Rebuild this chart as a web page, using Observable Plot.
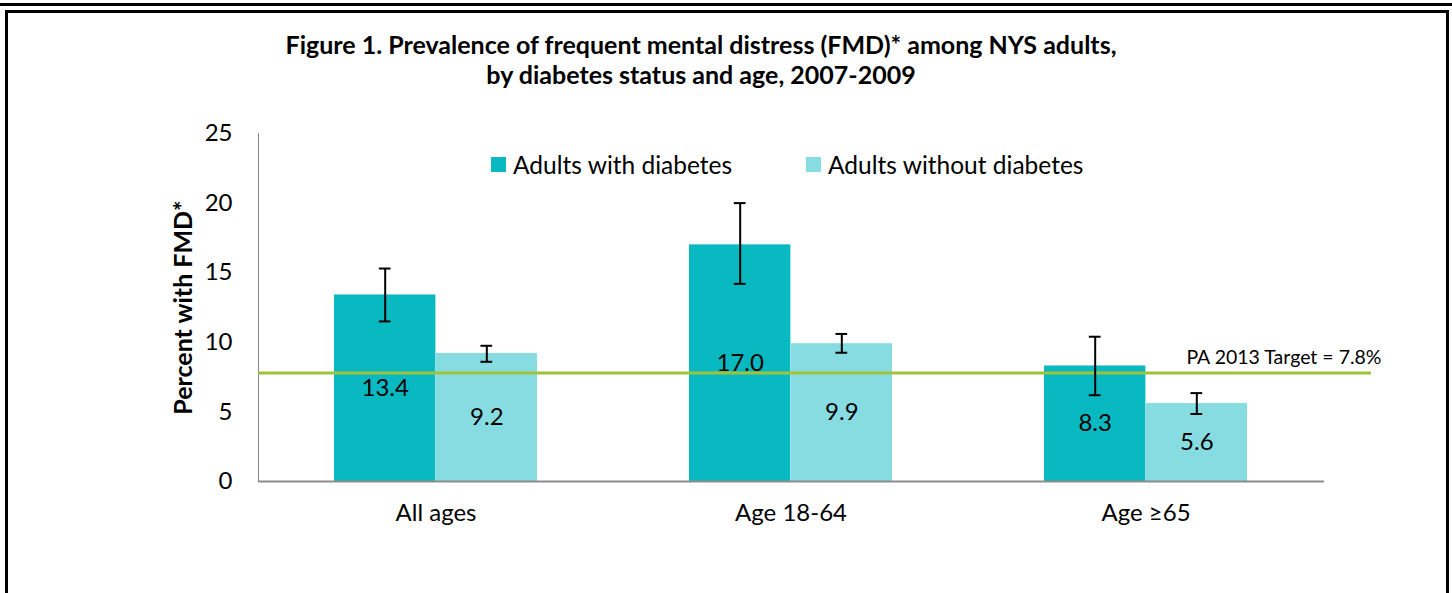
<!DOCTYPE html>
<html>
<head>
<meta charset="utf-8">
<script src="https://cdn.jsdelivr.net/npm/d3@7"></script>
<script src="https://cdn.jsdelivr.net/npm/@observablehq/plot@0.6"></script>
<style>
  body { margin: 0; background: #fff; }
  #wrap { position: relative; width: 1452px; height: 593px; overflow: hidden; font-family: Lato, "Open Sans", sans-serif; background: #fff; }
  #topRule { position: absolute; left: 0; top: 3px; width: 1452px; height: 3px; background: #000; }
  #box { position: absolute; left: 5px; top: 10px; width: 1438px; height: 620px; border: 3px solid #000; }
  #title { position: absolute; left: 0; width: 1402px; top: 29px; text-align: center; font-weight: bold; font-size: 25px; line-height: 30px; color: #000; }
  #chart { position: absolute; left: 0; top: 0; }
  #chart svg text { fill: #000; }
  .leg { position: absolute; top: 150px; font-size: 24.5px; color: #000; display: flex; align-items: center; white-space: nowrap; }
  .sw { width: 15px; height: 15px; margin-right: 7px; }
</style>
</head>
<body>
<div id="wrap">
  <div id="topRule"></div>
  <div id="box"></div>
  <div id="chart"></div>
  <div id="title"></div>
  <div id="legend"></div>
</div>
<script>
const titleLines = ["Figure 1. Prevalence of frequent mental distress (FMD)* among NYS adults,", "by diabetes status and age, 2007-2009"];
const groups = ["All ages", "Age 18-64", "Age \u226565"];
const series = ["Adults with diabetes", "Adults without diabetes"];
const withDiabetes = [13.4, 17.0, 8.3];
const withDiabetesLow = [11.5, 14.2, 6.2];
const withDiabetesHigh = [15.3, 20.0, 10.4];
const withoutDiabetes = [9.2, 9.9, 5.6];
const withoutDiabetesLow = [8.6, 9.25, 4.85];
const withoutDiabetesHigh = [9.75, 10.6, 6.35];
const target = 7.8;
const targetLabel = "PA 2013 Target = 7.8%";
const yTicks = [0, 5, 10, 15, 20, 25];
const yLabel = "Percent with FMD*";
const colors = ["#09B9C1", "#87DCE2"];

document.getElementById("title").innerHTML = titleLines.join("<br>");
const legend = document.getElementById("legend");
[[491, 0], [806, 1]].forEach(([left, i]) => {
  const d = document.createElement("div");
  d.className = "leg";
  d.style.left = left + "px";
  d.innerHTML = `<span class="sw" style="background:${colors[i]}"></span>${series[i]}`;
  legend.appendChild(d);
});

const W = 1452, H = 593, mL = 258, mR = 81, mT = 133, mB = 112;
const xRange = [258, 1324];
const pIn = 0.428, pOut = pIn / 2;
const bw = d3.scaleBand(groups, xRange).paddingInner(pIn).paddingOuter(pOut).bandwidth();
const cap = 12;

const rowsWith = groups.map((g, i) => ({group: g, value: withDiabetes[i], low: withDiabetesLow[i], high: withDiabetesHigh[i]}));
const rowsWithout = groups.map((g, i) => ({group: g, value: withoutDiabetes[i], low: withoutDiabetesLow[i], high: withoutDiabetesHigh[i]}));

const fmt = d3.format(".1f");

const chart = Plot.plot({
  width: W, height: H,
  marginLeft: mL, marginRight: mR, marginTop: mT, marginBottom: mB,
  style: {color: "#888", fontFamily: "Lato, 'Open Sans', sans-serif", fontSize: "24px", background: "transparent", overflow: "visible"},
  x: {domain: groups, range: xRange, paddingInner: pIn, paddingOuter: pOut, tickSize: 0, tickPadding: 22, label: null},
  y: {domain: [0, 25], ticks: yTicks, tickSize: 0, tickPadding: 26, line: true, label: null},
  marks: [
    Plot.barY(rowsWith, {x: "group", y: "value", fill: colors[0], insetRight: bw / 2}),
    Plot.barY(rowsWithout, {x: "group", y: "value", fill: colors[1], insetLeft: bw / 2}),
    Plot.ruleY([0], {stroke: "#8c8c8c", strokeWidth: 2, insetRight: 1452 - mR - xRange[1]}),
    Plot.ruleY([target], {stroke: "#9DC33B", strokeWidth: 3}),
    Plot.text([targetLabel], {y: () => target, text: d => d, frameAnchor: "right", textAnchor: "end", dx: 10, dy: -15, fontSize: 19.5}),
    Plot.text(rowsWith, {x: "group", y: d => d.value / 2, text: d => fmt(d.value), dx: -bw / 4, fontSize: 24}),
    Plot.text(rowsWithout, {x: "group", y: d => d.value / 2, text: d => fmt(d.value), dx: bw / 4, fontSize: 24}),
    Plot.ruleX(rowsWith, {x: "group", y1: "low", y2: "high", dx: -bw / 4, stroke: "#000", strokeWidth: 2}),
    Plot.ruleX(rowsWithout, {x: "group", y1: "low", y2: "high", dx: bw / 4, stroke: "#000", strokeWidth: 2}),
    Plot.tickY(rowsWith, {x: "group", y: "low", dx: -bw / 4, insetLeft: (bw - cap) / 2, insetRight: (bw - cap) / 2, stroke: "#000", strokeWidth: 2}),
    Plot.tickY(rowsWith, {x: "group", y: "high", dx: -bw / 4, insetLeft: (bw - cap) / 2, insetRight: (bw - cap) / 2, stroke: "#000", strokeWidth: 2}),
    Plot.tickY(rowsWithout, {x: "group", y: "low", dx: bw / 4, insetLeft: (bw - cap) / 2, insetRight: (bw - cap) / 2, stroke: "#000", strokeWidth: 2}),
    Plot.tickY(rowsWithout, {x: "group", y: "high", dx: bw / 4, insetLeft: (bw - cap) / 2, insetRight: (bw - cap) / 2, stroke: "#000", strokeWidth: 2}),
    Plot.text([yLabel], {text: d => d, frameAnchor: "left", textAnchor: "middle", rotate: -90, dx: -75, fontSize: 25, fontWeight: "bold"})
  ]
});
document.getElementById("chart").appendChild(chart);
</script>
</body>
</html>
